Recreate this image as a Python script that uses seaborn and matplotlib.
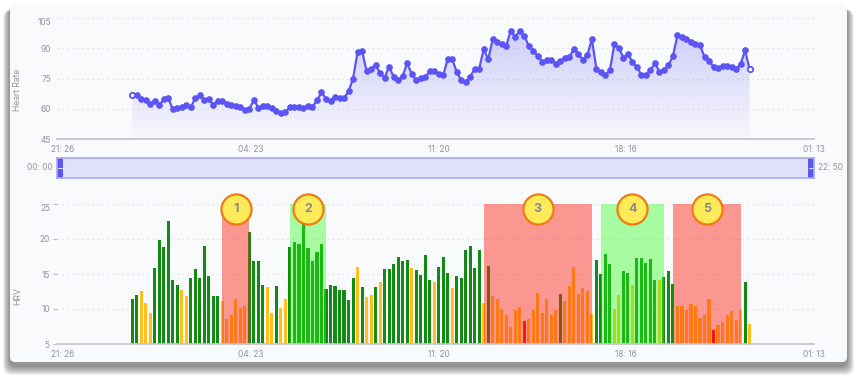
import numpy as np
import pandas as pd
import seaborn as sns
import matplotlib.pyplot as plt
from matplotlib.patches import FancyBboxPatch, PathPatch
from matplotlib.colors import LinearSegmentedColormap
from matplotlib.transforms import IdentityTransform

sns.set_theme(style='white')
plt.rcParams['font.family'] = ['Inter', 'DejaVu Sans']

# samples every 10 minutes, 00:00 -> 22:50 (minutes after midnight)
minutes = np.arange(0, 1371, 10)

heart_rate = [
    66.6, 66.6, 65.0, 64.3, 62.3, 64.0, 61.8, 64.6, 65.3, 59.7,
    60.6, 60.8, 62.0, 60.8, 65.3, 66.6, 64.3, 64.6, 62.0, 64.0,
    63.8, 62.3, 62.0, 61.6, 61.0, 59.3, 60.0, 64.3, 60.6, 61.5,
    61.3, 60.6, 59.0, 58.0, 58.3, 61.0, 61.0, 61.0, 60.3, 61.3,
    61.1, 64.1, 68.1, 65.0, 64.0, 65.8, 65.3, 65.3, 68.6, 74.9,
    88.0, 88.7, 78.7, 79.9, 81.7, 77.6, 75.4, 80.9, 75.9, 74.1,
    76.2, 82.5, 77.4, 74.2, 75.4, 75.7, 78.6, 78.6, 77.2, 76.6,
    84.5, 84.5, 78.4, 74.1, 73.3, 75.9, 79.9, 79.9, 89.5, 84.5,
    94.5, 93.3, 92.0, 91.2, 98.8, 95.8, 98.5, 96.1, 91.2, 88.7,
    86.2, 83.4, 84.0, 84.2, 82.4, 83.7, 85.0, 85.7, 89.5, 87.0,
    84.4, 86.5, 94.5, 79.9, 78.4, 76.6, 79.1, 92.0, 90.0, 85.4,
    87.2, 83.2, 80.7, 76.8, 76.8, 79.1, 82.5, 78.4, 79.2, 81.5,
    86.2, 96.5, 95.6, 94.5, 93.3, 92.0, 91.5, 85.7, 83.7, 80.9,
    80.4, 81.2, 81.2, 80.7, 79.9, 82.0, 89.0, 79.6,
]

hrv = [
    11.4, 12.0, 12.6, 10.8, 9.5, 15.8, 19.9, 18.8, 22.6, 14.1,
    13.5, 12.7, 11.9, 14.5, 15.7, 14.4, 19.0, 14.7, 11.8, 11.9,
    11.2, 8.6, 9.2, 11.4, 10.2, 10.5, 21.0, 16.8, 16.9, 13.4,
    13.2, 9.5, 13.3, 10.2, 11.4, 18.8, 19.6, 19.3, 22.1, 18.7,
    16.8, 18.2, 19.3, 12.9, 13.4, 13.3, 12.7, 12.7, 11.3, 14.4,
    16.0, 13.1, 11.7, 12.0, 13.1, 13.9, 15.7, 15.7, 16.5, 17.5,
    16.9, 17.0, 15.9, 15.6, 14.9, 17.7, 14.1, 13.8, 16.0, 17.5,
    15.1, 13.0, 14.7, 14.4, 18.4, 19.0, 15.8, 18.5, 10.8, 16.2,
    11.9, 11.4, 10.0, 9.1, 7.5, 9.8, 10.3, 8.3, 8.6, 9.9,
    12.3, 9.4, 11.5, 9.2, 9.9, 12.2, 11.1, 13.3, 16.0, 12.2,
    13.0, 12.6, 9.3, 17.0, 15.0, 17.9, 16.4, 10.0, 12.0, 15.5,
    15.1, 13.5, 17.3, 17.3, 16.6, 17.2, 14.2, 14.1, 14.6, 15.4,
    13.6, 10.5, 10.4, 9.9, 10.7, 10.4, 8.7, 9.1, 11.5, 7.0,
    7.7, 8.1, 9.1, 9.7, 8.4, 9.8, 13.8, 7.9,
]

# g = good (green), y = medium (amber), r = poor (red)
hrv_level = list(
    'ggyyyggggg' 'gyyggggggg' 'yyyyyygggg' 'yygyyggggg' 'gggggggggg'
    'ygyygygggg' 'ggyggggygg' 'gyggggggyg' 'yyyyyyyryy' 'yyyyygyyyy'
    'yyyggggyyg' 'gygggggygg' 'gyyyyyyyyr' 'yyyyyygy'
)

# episodes (start, end in minutes) and their kind
episode_start = [200, 350, 780, 1040, 1200]
episode_end = [260, 430, 1020, 1180, 1350]
episode_kind = ['low', 'high', 'low', 'high', 'low']
episode_label = ['1', '2', '3', '4', '5']

tick_pos = [-154, 263, 680, 1096, 1513]
tick_lab = ['21: 26', '04: 23', '11: 20', '18: 16', '01: 13']

df = pd.DataFrame({'minute': minutes, 'hr': heart_rate, 'hrv': hrv, 'level': hrv_level})

W, H = 859, 376
fig = plt.figure(figsize=(W / 100, H / 100), dpi=100)
fig.patch.set_facecolor('white')

# card with soft shadow (pixel coordinates, origin bottom-left)
for k in range(10, 0, -1):
    sh = FancyBboxPatch((10 - k * 0.7, 14 - 4 - k * 0.9), 837 + k * 1.4, 359 + k * 0.6,
                        boxstyle='round,pad=0,rounding_size=8', transform=IdentityTransform(),
                        facecolor='black', edgecolor='none', alpha=0.05, zorder=-20)
    fig.patches.append(sh)
card = FancyBboxPatch((10, 14), 837, 359, boxstyle='round,pad=0,rounding_size=5',
                      transform=IdentityTransform(), facecolor='#f9fafc', edgecolor='none', zorder=-10)
fig.patches.append(card)

txt_col = '#8f94a3'
axis_col = '#c3c6ce'
grid_col = '#d9dce3'
line_col = '#5a55f4'

x0, x1 = 57 / W, 814 / W
ax1 = fig.add_axes([x0, 1 - 139 / H, x1 - x0, 121 / H])
ax3 = fig.add_axes([x0, 1 - 178 / H, x1 - x0, 20 / H])
ax2 = fig.add_axes([x0, 1 - 344 / H, x1 - x0, 140 / H])

# ---- heart rate
grad = np.linspace(0, 1, 256).reshape(-1, 1)
cmap = LinearSegmentedColormap.from_list('hrfill', [(0.42, 0.40, 0.96, 0.02), (0.42, 0.40, 0.96, 0.30)])
im = ax1.imshow(grad, extent=[minutes[0], minutes[-1], 45, max(heart_rate)], origin='lower',
                aspect='auto', cmap=cmap, zorder=1)
poly = ax1.fill_between(minutes, heart_rate, 45, color='none')
clip = PathPatch(poly.get_paths()[0], transform=ax1.transData, facecolor='none', edgecolor='none')
ax1.add_patch(clip)
im.set_clip_path(clip)

sns.lineplot(data=df, x='minute', y='hr', ax=ax1, color=line_col, lw=1.6, marker='o',
             markersize=4.0, markeredgecolor=line_col, zorder=3)
ax1.plot(minutes[[0, -1]], np.array(heart_rate)[[0, -1]], 'o', ms=3.8, mfc='white',
         mec=line_col, mew=1.2, zorder=4)

ax1.set_xlim(-167, 1513)
ax1.set_ylim(45, 105)
ax1.set_yticks([45, 60, 75, 90, 105])
ax1.set_ylabel('Heart Rate', color=txt_col, fontsize=6.2)
ax1.yaxis.set_label_coords(-0.046, 0.41)

# ---- HRV bars
pal = {'g': '#138a13', 'y': '#ffbf1c', 'r': '#ff0a0a'}
sns.barplot(data=df, x='minute', y='hrv', hue='level', palette=pal, native_scale=True,
            dodge=False, width=0.68, errorbar=None, saturation=1, legend=False, ax=ax2,
            linewidth=0, zorder=2)
for s, e, kind, lab in zip(episode_start, episode_end, episode_kind, episode_label):
    c = '#ff2414' if kind == 'low' else '#2cff16'
    a = 0.46 if kind == 'low' else 0.40
    ax2.axvspan(s, e, ymin=0, ymax=1, color=c, alpha=a, lw=0, zorder=3)
    ax2.scatter([(s + e) / 2], [24.33], s=470, color='#ffeb5a', edgecolor='#f27a12',
                linewidth=1.6, zorder=6, clip_on=False)
    ax2.text((s + e) / 2, 24.33, lab, ha='center', va='center', fontsize=9, fontweight='bold',
             color='#8a8a8a', zorder=7, clip_on=False)

ax2.set_xlim(-167, 1513)
ax2.set_ylim(5, 25)
ax2.set_yticks([5, 10, 15, 20, 25])
ax2.set_ylabel('HRV', color=txt_col, fontsize=6.2)
ax2.yaxis.set_label_coords(-0.046, 0.34)
ax2.set_xlabel('')
ax1.set_xlabel('')

for ax, ticklen in ((ax1, 0), (ax2, 2.6)):
    ax.set_facecolor('none')
    ax.set_xticks(tick_pos)
    ax.set_xticklabels(tick_lab)
    for sp in ('top', 'right', 'left'):
        ax.spines[sp].set_visible(False)
    ax.spines['bottom'].set_color(axis_col)
    ax.spines['bottom'].set_linewidth(1.3)
    ax.spines['bottom'].set_zorder(5)
    ax.tick_params(axis='x', length=0, pad=4.0, labelsize=6, labelcolor=txt_col)
    ax.tick_params(axis='y', length=ticklen, width=0.8, color='#b8bcc6', pad=2.5 if ticklen else 4.3,
                   labelsize=6, labelcolor=txt_col, left=bool(ticklen))
    ax.yaxis.grid(True, color=grid_col, linestyle=(0, (1, 3)), linewidth=0.9)
    ax.set_axisbelow(True)
    ax.get_yticklabels()[-1].set_verticalalignment('top')

# ---- range slider
ax3.set_xlim(0, 1)
ax3.set_ylim(0, 1)
ax3.set_facecolor('#e1e0fb')
for sp in ax3.spines.values():
    sp.set_color('#aaa7f6')
    sp.set_linewidth(1.2)
ax3.set_xticks([])
ax3.set_yticks([])
ax3.axvspan(0, 0.008, color='#5c57f1', lw=0)
ax3.axvspan(0.992, 1, color='#5c57f1', lw=0)
ax3.plot([0.0015, 0.0065], [0.5, 0.5], color='#d8d7ff', lw=0.8)
ax3.plot([0.9935, 0.9985], [0.5, 0.5], color='#d8d7ff', lw=0.8)
ax3.text(-0.005, 0.5, '00: 00', ha='right', va='center', fontsize=6, color=txt_col, transform=ax3.transAxes)
ax3.text(1.005, 0.5, '22: 50', ha='left', va='center', fontsize=6, color=txt_col, transform=ax3.transAxes)

fig.savefig('out.png', dpi=100)
